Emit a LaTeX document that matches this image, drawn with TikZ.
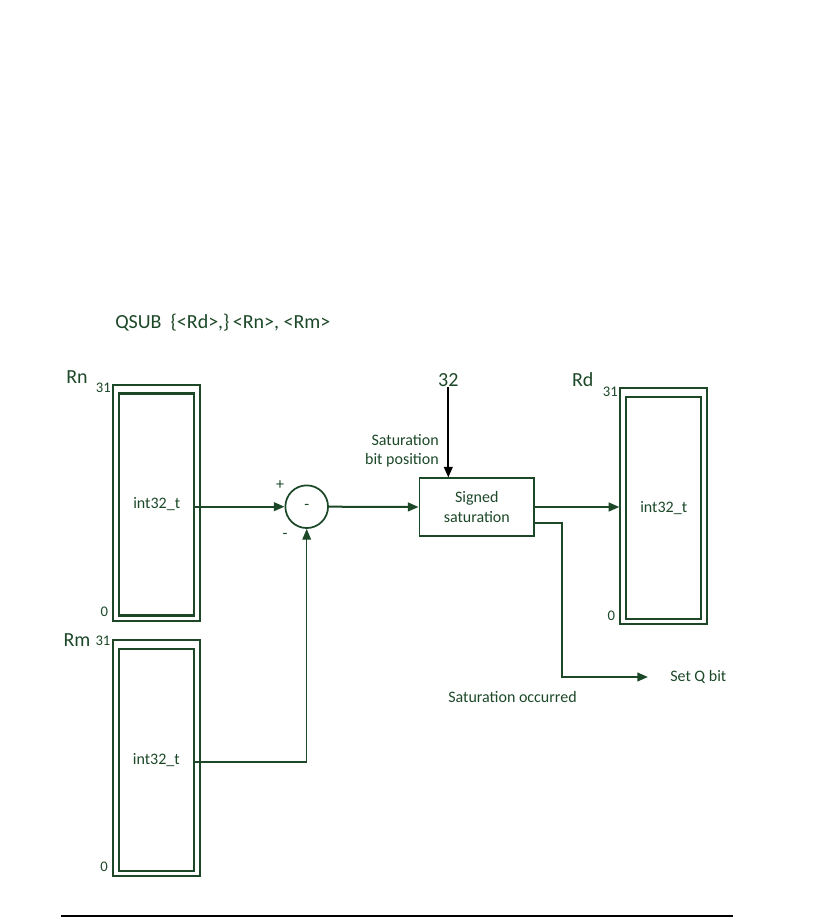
\documentclass[tikz,border=0pt]{standalone}
\usepackage{fontspec}
\setmainfont{Carlito}
\usepackage{tikz}
\usetikzlibrary{arrows.meta, positioning, calc}
\definecolor{mygreen}{RGB}{28,72,40}
\tikzset{
  regout/.style={rectangle, draw=mygreen, line width=1.5pt,
    minimum width=65pt, minimum height=177pt, inner sep=0pt},
  regin/.style={rectangle, draw=mygreen, line width=1.6pt,
    minimum width=56pt, minimum height=166.5pt, inner sep=0pt,
    font=\fontsize{12}{14.4}\selectfont, text=mygreen},
  sumnode/.style={circle, draw=mygreen, line width=1.3pt,
    minimum size=32pt, inner sep=0pt,
    font=\fontsize{12}{14.4}\selectfont, text=mygreen},
  satblock/.style={rectangle, draw=mygreen, line width=1.3pt,
    minimum width=86pt, minimum height=43pt, align=center,
    font=\fontsize{12}{14.4}\selectfont, text=mygreen},
  reglbl/.style={font=\fontsize{15}{18}\selectfont, text=mygreen, inner sep=0pt},
  bitlbl/.style={font=\fontsize{11}{13}\selectfont, text=mygreen, inner sep=0pt},
  lbl/.style={font=\fontsize{12}{14.4}\selectfont, text=mygreen, inner sep=0pt},
  arrow/.style={-{Triangle[length=8pt,width=6.5pt]}, line width=1.5pt, color=mygreen},
  thinarrow/.style={-{Triangle[length=8pt,width=6.5pt]}, line width=0.8pt, color=mygreen},
  blkarrow/.style={-{Triangle[length=8pt,width=6.5pt]}, line width=1.5pt, color=black}
}
\begin{document}
\begin{tikzpicture}[x=0.75pt, y=-0.75pt]
  \useasboundingbox (0,0) rectangle (834,920);
  % instruction
  \node[reglbl, anchor=west] (title) at (115,323) {QSUB\ \ \{<Rd>,\}\,<Rn>, <Rm>};
  % source register Rn
  \node[regout] (rnout) at (156.7,502.5) {};
  \node[regin, yshift=-1.5pt] (rnin) at (rnout) {int32\_t};
  \node[reglbl] (rn) at (77,377) {Rn};
  \node[bitlbl, anchor=east] (rn31) at ([xshift=-1pt, yshift=-3pt]rnout.north west) {31};
  \node[bitlbl, anchor=east] (rn0) at ([xshift=-3pt, yshift=7pt]rnout.south west) {0};
  % source register Rm
  \node[regout] (rmout) at (156.3,758.3) {};
  \node[regin, yshift=-1.5pt] (rmin) at (rmout) {int32\_t};
  \node[reglbl] (rm) at (77,640) {Rm};
  \node[bitlbl, anchor=east] (rm31) at ([xshift=-1pt, yshift=-1pt]rmout.north west) {31};
  \node[bitlbl, anchor=east] (rm0) at ([xshift=-3pt, yshift=8pt]rmout.south west) {0};
  % subtractor
  \node[sumnode] (sub) at (306.7,506.7) {-};
  \node[lbl] (plus) at (280,485) {+};
  \node[lbl] (minus) at (285,536) {-};
  % saturation
  \node[satblock] (sat) at (476.8,507) {Signed\\saturation};
  \node[reglbl] (n32) at (448.3,380) {32};
  \node[lbl, align=right, anchor=east] (satpos) at (439,450.5) {Saturation\\bit position};
  % destination register Rd
  \node[regout] (rdout) at (663.7,506.3) {};
  \node[regin, yshift=-1pt] (rdin) at (rdout) {int32\_t};
  \node[reglbl] (rd) at (582.7,380) {Rd};
  \node[bitlbl, anchor=east] (rd31) at ([xshift=-1pt, yshift=-3pt]rdout.north west) {31};
  \node[bitlbl, anchor=east] (rd0) at ([xshift=-3pt, yshift=7pt]rdout.south west) {0};
  % Q flag
  \coordinate (qend) at (648,677);
  \node[lbl, anchor=west] (setq) at (670,677) {Set Q bit};
  \node[lbl] (satocc) at (512.5,697) {Saturation occurred};
  % connections
  \draw[arrow] (rnin.east |- sub) -- (sub.west);
  \draw[thinarrow] (rmin.east |- 0,762) -| (sub.south);
  \draw[arrow] (sub.east) -- (sat.west);
  \draw[blkarrow] (n32.south) -- (n32.south |- sat.north);
  \draw[arrow] (sat.east) -- (rdout.west |- sat);
  \draw[arrow] ([yshift=-12pt]sat.east) -| (562.3,600) |- (qend);
  % bottom rule
  \draw[line width=1.6pt] (61,916) -- (733,916);
\end{tikzpicture}
\end{document}
